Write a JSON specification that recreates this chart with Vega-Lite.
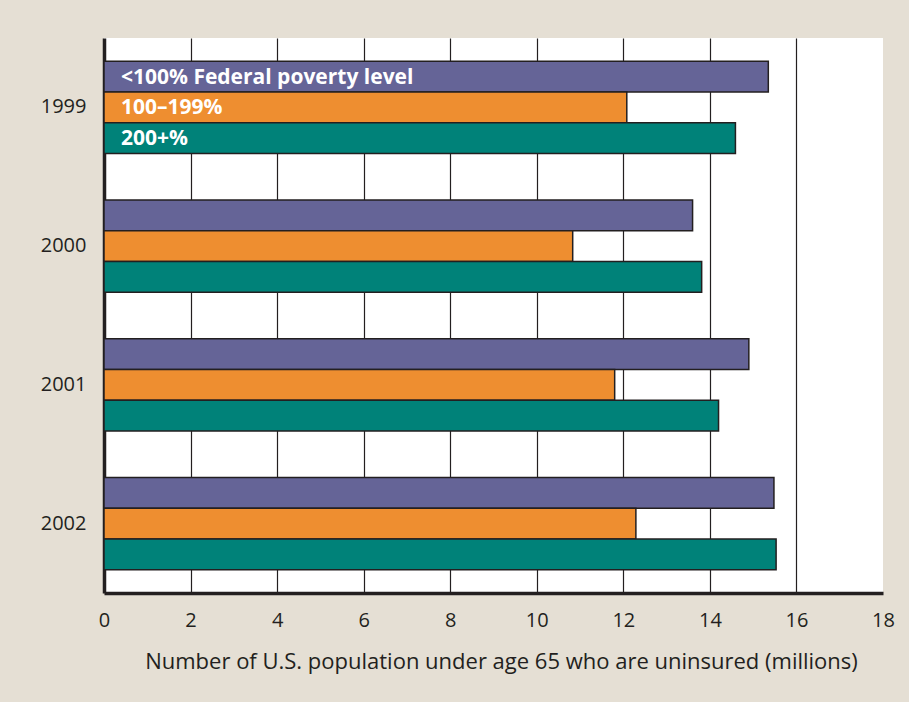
{
  "$schema": "https://vega.github.io/schema/vega-lite/v6.json",
  "autosize": "none",
  "width": 779,
  "height": 555,
  "padding": {"left": 104, "top": 38, "right": 26, "bottom": 109},
  "background": "#e5dfd4",
  "config": {
    "view": {"fill": "#ffffff", "stroke": null},
    "font": "Open Sans"
  },
  "data": {
    "values": [
      {"year": "1999", "level": "<100% Federal poverty level", "value": 15.35},
      {"year": "1999", "level": "100–199%", "value": 12.08},
      {"year": "1999", "level": "200+%", "value": 14.59},
      {"year": "2000", "level": "<100% Federal poverty level", "value": 13.60},
      {"year": "2000", "level": "100–199%", "value": 10.83},
      {"year": "2000", "level": "200+%", "value": 13.81},
      {"year": "2001", "level": "<100% Federal poverty level", "value": 14.90},
      {"year": "2001", "level": "100–199%", "value": 11.80},
      {"year": "2001", "level": "200+%", "value": 14.20},
      {"year": "2002", "level": "<100% Federal poverty level", "value": 15.48},
      {"year": "2002", "level": "100–199%", "value": 12.29},
      {"year": "2002", "level": "200+%", "value": 15.53}
    ]
  },
  "encoding": {
    "y": {
      "field": "year",
      "type": "nominal",
      "sort": ["1999", "2000", "2001", "2002"],
      "scale": {"paddingInner": 0.335, "paddingOuter": 0.1675},
      "axis": {
        "title": null,
        "ticks": false,
        "domainColor": "#231f20",
        "domainWidth": 3.5,
        "labelFontSize": 20,
        "labelColor": "#231f20",
        "labelPadding": 18
      }
    },
    "yOffset": {
      "field": "level",
      "type": "nominal",
      "sort": ["<100% Federal poverty level", "100–199%", "200+%"],
      "scale": {"paddingInner": 0, "paddingOuter": 0}
    }
  },
  "layer": [
    {
      "mark": {"type": "bar", "stroke": "#231f20", "strokeWidth": 1.5, "opacity": 1},
      "encoding": {
        "x": {
          "field": "value",
          "type": "quantitative",
          "scale": {"domain": [0, 18], "nice": false},
          "axis": {
            "values": [0, 2, 4, 6, 8, 10, 12, 14, 16, 18],
            "title": "Number of U.S. population under age 65 who are uninsured (millions)",
            "titleFontSize": 22,
            "titleFontWeight": "normal",
            "titleColor": "#231f20",
            "titlePadding": 21,
            "titleX": 397,
            "labelFontSize": 20,
            "labelColor": "#231f20",
            "labelPadding": 17,
            "labelFlush": false,
            "ticks": false,
            "domainColor": "#231f20",
            "domainWidth": 3.5,
            "grid": true,
            "gridColor": "#231f20",
            "gridWidth": 1.2,
            "gridOpacity": {"condition": {"test": "datum.value === 18 || datum.value === 0", "value": 0}, "value": 1}
          }
        },
        "color": {
          "field": "level",
          "type": "nominal",
          "sort": ["<100% Federal poverty level", "100–199%", "200+%"],
          "scale": {
            "domain": ["<100% Federal poverty level", "100–199%", "200+%"],
            "range": ["#656497", "#ee8e30", "#008279"]
          },
          "legend": null
        }
      }
    },
    {
      "transform": [{"filter": "datum.year === '1999'"}],
      "mark": {
        "type": "text",
        "align": "left",
        "baseline": "middle",
        "dx": 17,
        "dy": 1,
        "color": "#ffffff",
        "fontSize": 21,
        "fontWeight": "bold"
      },
      "encoding": {
        "x": {"datum": 0, "type": "quantitative"},
        "text": {"field": "level"}
      }
    }
  ]
}
